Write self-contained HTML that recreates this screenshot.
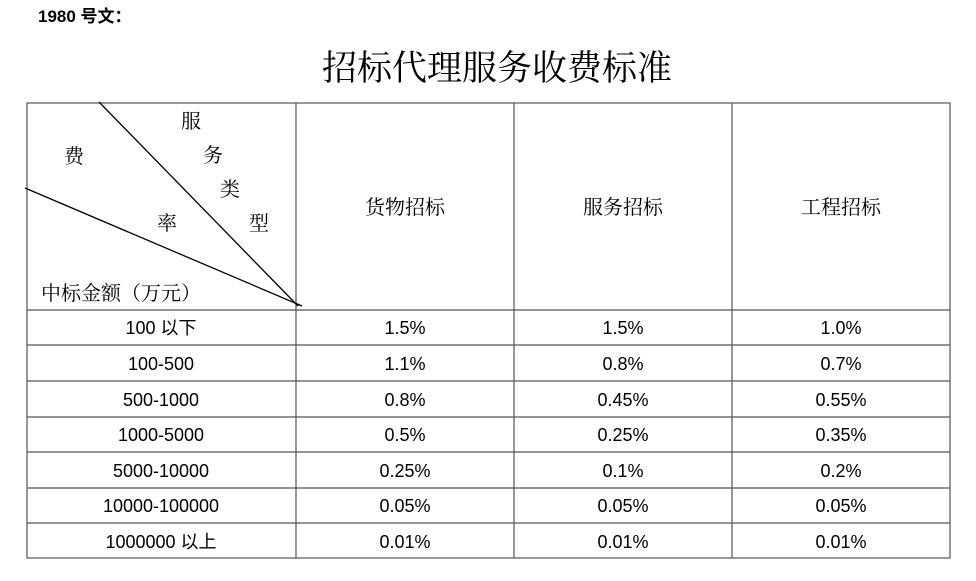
<!DOCTYPE html>
<html><head><meta charset="utf-8"><style>
body{margin:0;background:#fff;width:976px;height:581px;overflow:hidden}
svg{display:block}
.s{font-family:"Liberation Sans","Noto Sans CJK SC",sans-serif;fill:#000}
.f{font-family:"Noto Serif CJK SC","Liberation Serif",serif;fill:#000}
</style></head><body>
<svg width="976" height="581" viewBox="0 0 976 581">
<text class="s" x="38" y="22" font-size="17" font-weight="bold">1980 号文：</text>
<text class="f" x="497" y="80" font-size="35" text-anchor="middle">招标代理服务收费标准</text>
<g stroke="#555" stroke-width="1.2" fill="none">
<rect x="27" y="103" width="923" height="455"/>
<line x1="296" y1="103" x2="296" y2="558"/>
<line x1="514" y1="103" x2="514" y2="558"/>
<line x1="732" y1="103" x2="732" y2="558"/>
<line x1="27" y1="310" x2="950" y2="310"/>
<line x1="27" y1="345" x2="950" y2="345"/>
<line x1="27" y1="381" x2="950" y2="381"/>
<line x1="27" y1="417" x2="950" y2="417"/>
<line x1="27" y1="452" x2="950" y2="452"/>
<line x1="27" y1="488" x2="950" y2="488"/>
<line x1="27" y1="523" x2="950" y2="523"/>
</g>
<g stroke="#000" stroke-width="1.3">
<line x1="99" y1="102" x2="298" y2="306"/>
<line x1="25" y1="188" x2="302" y2="306"/>
</g>
<g font-size="20" class="f">
<text class="f" x="181" y="128">服</text>
<text class="f" x="64" y="163">费</text>
<text class="f" x="203" y="162">务</text>
<text class="f" x="220" y="196">类</text>
<text class="f" x="157" y="230">率</text>
<text class="f" x="249" y="230">型</text>
<text class="f" x="41" y="300">中标金额（万元）</text>
<text class="f" x="405" y="214" text-anchor="middle">货物招标</text>
<text class="f" x="623" y="214" text-anchor="middle">服务招标</text>
<text class="f" x="841" y="214" text-anchor="middle">工程招标</text>
</g>
<g font-size="18" text-anchor="middle" class="s">
<text class="s" x="161" y="334">100 以下</text><text class="s" x="405" y="334">1.5%</text><text class="s" x="623" y="334">1.5%</text><text class="s" x="841" y="334">1.0%</text>
<text class="s" x="161" y="370">100-500</text><text class="s" x="405" y="370">1.1%</text><text class="s" x="623" y="370">0.8%</text><text class="s" x="841" y="370">0.7%</text>
<text class="s" x="161" y="406">500-1000</text><text class="s" x="405" y="406">0.8%</text><text class="s" x="623" y="406">0.45%</text><text class="s" x="841" y="406">0.55%</text>
<text class="s" x="161" y="441">1000-5000</text><text class="s" x="405" y="441">0.5%</text><text class="s" x="623" y="441">0.25%</text><text class="s" x="841" y="441">0.35%</text>
<text class="s" x="161" y="477">5000-10000</text><text class="s" x="405" y="477">0.25%</text><text class="s" x="623" y="477">0.1%</text><text class="s" x="841" y="477">0.2%</text>
<text class="s" x="161" y="512">10000-100000</text><text class="s" x="405" y="512">0.05%</text><text class="s" x="623" y="512">0.05%</text><text class="s" x="841" y="512">0.05%</text>
<text class="s" x="161" y="548">1000000 以上</text><text class="s" x="405" y="548">0.01%</text><text class="s" x="623" y="548">0.01%</text><text class="s" x="841" y="548">0.01%</text>
</g>
</svg>
</body></html>
